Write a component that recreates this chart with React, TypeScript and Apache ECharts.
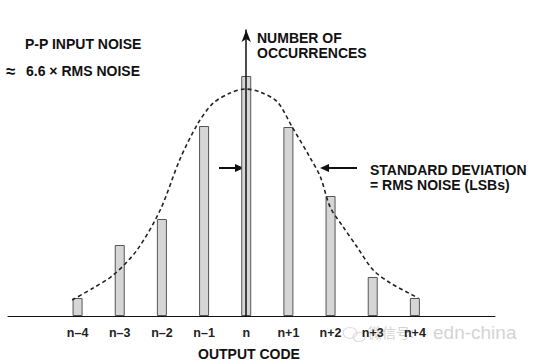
import React, { useEffect, useRef } from "react";
import * as echarts from "echarts";

const codeLabels = ["n–4", "n–3", "n–2", "n–1", "n", "n+1", "n+2", "n+3", "n+4"];
const codeOffsets = [-4, -3, -2, -1, 0, 1, 2, 3, 4];
const occurrences = [18, 71, 97, 190, 240, 189, 120, 39, 18];

// dashed Gaussian envelope
const curveX = [-4.13, -3.63, -3.15, -2.59, -2.04, -1.57, -1.14, -0.78, -0.38, -0.02, 0.33, 0.74, 1.09, 1.52, 1.76, 1.99, 2.3, 2.63, 3.01, 3.42, 4.08];
const curveY = [16, 28, 41, 66, 106, 157, 193, 213, 223, 227, 224, 214, 189, 158, 139, 109, 89, 69, 46, 33, 18];

const FONT = "'Liberation Sans', Arial, Helvetica, sans-serif";

export default function App() {
  const ref = useRef<HTMLDivElement>(null);
  useEffect(() => {
    if (!ref.current) return;
    document.body.style.margin = "0";
    const chart = echarts.init(ref.current, null, { renderer: "svg" });
    const txt = (x: number, y: number, text: string, size = 14, extra: any = {}) => ({
      type: "text",
      x,
      y,
      silent: true,
      style: {
        text,
        fill: "#111",
        font: `bold ${size}px ${FONT}`,
        textVerticalAlign: "middle",
        ...extra,
      },
    });
    chart.setOption({
      animation: false,
      backgroundColor: "#ffffff",
      grid: { left: 8, right: 40, top: 30, bottom: 47 },
      xAxis: {
        type: "value",
        min: -5.65,
        max: 5.9,
        axisLine: { show: true, onZero: true, lineStyle: { color: "#111", width: 1 } },
        axisTick: { show: false },
        splitLine: { show: false },
        axisLabel: {
          customValues: codeOffsets,
          formatter: (v: number) => codeLabels[Math.round(v) + 4] ?? "",
          color: "#222",
          fontSize: 12.5,
          fontWeight: "bold",
          fontFamily: FONT,
          margin: 10,
        },
      },
      yAxis: {
        type: "value",
        min: 0,
        max: 286,
        z: 5,
        axisLine: {
          show: true,
          onZero: true,
          symbol: ["none", "arrow"],
          symbolSize: [7, 12],
          lineStyle: { color: "#111", width: 1.5 },
        },
        axisTick: { show: false },
        axisLabel: { show: false },
        splitLine: { show: false },
      },
      series: [
        {
          type: "bar",
          barWidth: 10,
          z: 2,
          data: codeOffsets.map((x, i) => [x, occurrences[i]]),
          itemStyle: { color: "#d6d6d6", borderColor: "#555", borderWidth: 1 },
        },
        {
          type: "line",
          z: 4,
          smooth: 0.3,
          showSymbol: false,
          data: curveX.map((x, i) => [x, curveY[i]]),
          lineStyle: { color: "#222", width: 1.6, type: [4, 3] },
        },
      ],
      graphic: [
        txt(25, 44, "P-P INPUT NOISE"),
        txt(6, 71, "≈", 17),
        txt(26, 71, "6.6 × RMS NOISE"),
        txt(257, 38, "NUMBER OF"),
        txt(257, 53, "OCCURRENCES"),
        txt(370, 170, "STANDARD DEVIATION"),
        txt(370, 185, "= RMS NOISE (LSBs)"),
        txt(249, 354, "OUTPUT CODE", 14, { textAlign: "center" }),
        // faint watermark
        { type: "ellipse", silent: true, shape: { cx: 350, cy: 333, rx: 7, ry: 5.5 }, style: { fill: "none", stroke: "#dcdcdc", lineWidth: 1.2 } },
        { type: "ellipse", silent: true, shape: { cx: 359, cy: 337, rx: 6, ry: 4.5 }, style: { fill: "none", stroke: "#dcdcdc", lineWidth: 1.2 } },
        {
          type: "text",
          x: 368,
          y: 332,
          silent: true,
          style: {
            text: "微信号:",
            fill: "#d4d4d4",
            font: `14px 'Noto Sans CJK SC', ${FONT}`,
            textVerticalAlign: "middle",
          },
        },
        {
          type: "text",
          x: 433,
          y: 332,
          silent: true,
          style: {
            text: "edn-china",
            fill: "#d4d4d4",
            font: `19px ${FONT}`,
            textVerticalAlign: "middle",
          },
        },
        // standard deviation arrows
        { type: "line", shape: { x1: 219, y1: 168, x2: 236, y2: 168 }, style: { stroke: "#111", lineWidth: 2 } },
        { type: "polygon", shape: { points: [[244, 168], [235, 164], [235, 172]] }, style: { fill: "#111" } },
        { type: "line", shape: { x1: 328, y1: 168, x2: 357, y2: 168 }, style: { stroke: "#111", lineWidth: 2 } },
        { type: "polygon", shape: { points: [[320, 168], [329, 164], [329, 172]] }, style: { fill: "#111" } },
      ],
    });
    return () => chart.dispose();
  }, []);
  return <div ref={ref} style={{ width: 535, height: 363 }} />;
}
